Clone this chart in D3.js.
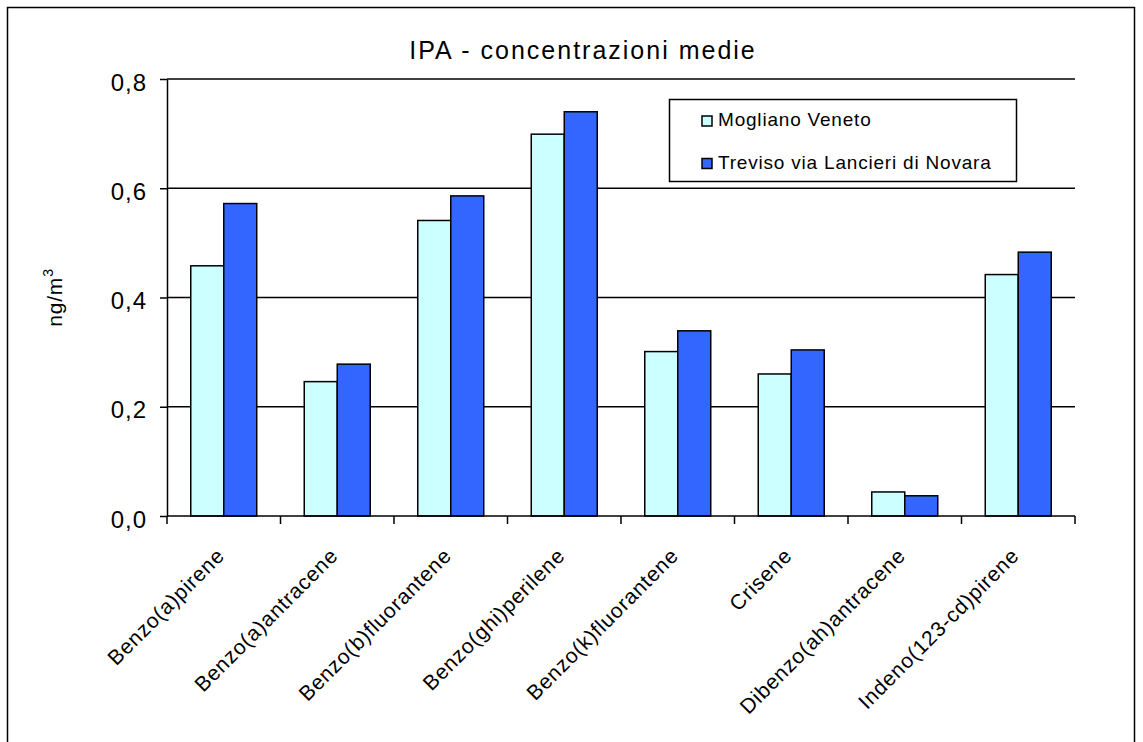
<!DOCTYPE html>
<html>
<head>
<meta charset="utf-8">
<script src="https://cdn.jsdelivr.net/npm/d3@7"></script>
<style>
    body { margin: 0; background: #fff; }
    text { font-family: "Liberation Sans", Arial, sans-serif; fill: #000; }
</style>
</head>
<body>
<div id="chart"></div>
<script>
const categories = ['Benzo(a)pirene', 'Benzo(a)antracene', 'Benzo(b)fluorantene', 'Benzo(ghi)perilene',
    'Benzo(k)fluorantene', 'Crisene', 'Dibenzo(ah)antracene', 'Indeno(123-cd)pirene'];
const seriesNames = ['Mogliano Veneto', 'Treviso via Lancieri di Novara'];
const mogliano = [0.458, 0.246, 0.541, 0.699, 0.301, 0.260, 0.044, 0.442];
const treviso = [0.572, 0.278, 0.586, 0.740, 0.339, 0.304, 0.037, 0.483];
const yTicks = [0, 0.2, 0.4, 0.6, 0.8];
const colors = ['#CCFFFF', '#3366FF'];

const width = 1143, height = 742;
const margin = { left: 167, top: 79, right: 68, bottom: 226 };

const svg = d3.select('#chart').append('svg')
    .attr('width', width)
    .attr('height', height);

// outer chart frame (bottom edge is below the picture)
svg.append('rect')
    .attr('x', 7.5).attr('y', 7.5)
    .attr('width', 1127).attr('height', 800)
    .attr('fill', 'none').attr('stroke', '#000').attr('stroke-width', 1.5);

const x0 = d3.scaleBand().domain(categories).range([margin.left, width - margin.right]).padding(0);
const x1 = d3.scaleBand().domain(seriesNames).range([0, x0.bandwidth()]).paddingInner(0).paddingOuter(0.72);
const y = d3.scaleLinear().domain([0, 0.8]).range([height - margin.bottom, margin.top]);

// horizontal grid
svg.append('g')
    .selectAll('line').data(yTicks.slice(1))
    .enter().append('line')
    .attr('x1', margin.left).attr('x2', width - margin.right)
    .attr('y1', d => y(d)).attr('y2', d => y(d))
    .attr('stroke', '#000').attr('stroke-width', 1.5);

// bars
const rows = categories.map((c, i) => ({ cat: c, vals: [mogliano[i], treviso[i]] }));
svg.append('g')
    .selectAll('g').data(rows)
    .enter().append('g')
    .attr('transform', d => 'translate(' + x0(d.cat) + ',0)')
    .selectAll('rect').data(d => d.vals.map((v, j) => ({ name: seriesNames[j], v: v, j: j })))
    .enter().append('rect')
    .attr('x', d => x1(d.name))
    .attr('width', x1.bandwidth())
    .attr('y', d => y(d.v))
    .attr('height', d => y(0) - y(d.v))
    .attr('fill', d => colors[d.j])
    .attr('stroke', '#000').attr('stroke-width', 1.5);

// y axis
const yAxis = svg.append('g')
    .attr('transform', 'translate(' + margin.left + ',0)')
    .call(d3.axisLeft(y).tickValues(yTicks).tickSize(7).tickSizeOuter(0)
        .tickFormat(d => d3.format('.1f')(d).replace('.', ',')));
yAxis.select('.domain').attr('stroke', '#000').attr('stroke-width', 1.5);
yAxis.selectAll('.tick line').attr('stroke', '#000').attr('stroke-width', 1.5);
yAxis.selectAll('.tick text')
    .attr('x', -20).attr('dy', 11)
    .style('font-size', '24px').style('letter-spacing', '1px')
    .attr('fill', '#000');

// x axis with ticks between categories
const xBase = y(0);
svg.append('line')
    .attr('x1', margin.left).attr('x2', width - margin.right)
    .attr('y1', xBase).attr('y2', xBase)
    .attr('stroke', '#000').attr('stroke-width', 1.5);
const bounds = categories.map(c => x0(c)).concat([width - margin.right]);
svg.append('g')
    .selectAll('line').data(bounds)
    .enter().append('line')
    .attr('x1', d => d).attr('x2', d => d)
    .attr('y1', xBase).attr('y2', xBase + 8)
    .attr('stroke', '#000').attr('stroke-width', 1.5);

svg.append('g')
    .selectAll('text').data(categories)
    .enter().append('text')
    .attr('text-anchor', 'end')
    .attr('transform', d => 'translate(' + (x0(d) + x0.bandwidth() / 2 + 2) + ',' + (xBase + 41) + ') rotate(-45)')
    .style('font-size', '21px').style('letter-spacing', '0.8px')
    .text(d => d);

// title
svg.append('text')
    .attr('x', 583).attr('y', 59)
    .attr('text-anchor', 'middle')
    .style('font-size', '25px').style('letter-spacing', '2px')
    .text('IPA - concentrazioni medie');

// y label
const yl = svg.append('text')
    .attr('transform', 'translate(62,' + ((margin.top + xBase) / 2) + ') rotate(-90)')
    .attr('text-anchor', 'middle')
    .style('font-size', '21px').style('letter-spacing', '0.8px');
yl.append('tspan').text('ng/m');
yl.append('tspan').attr('dy', -9).style('font-size', '14px').text('3');

// legend
const legend = svg.append('g');
legend.append('rect')
    .attr('x', 669.5).attr('y', 99.5).attr('width', 347).attr('height', 82)
    .attr('fill', '#fff').attr('stroke', '#000').attr('stroke-width', 1.5);
const items = legend.selectAll('g').data(seriesNames)
    .enter().append('g')
    .attr('transform', (d, i) => 'translate(702,' + (126 + i * 42.5) + ')');
items.append('rect')
    .attr('x', 0).attr('y', -10).attr('width', 10).attr('height', 10)
    .attr('fill', (d, i) => colors[i]).attr('stroke', '#000').attr('stroke-width', 1.5);
items.append('text')
    .attr('x', 16).attr('y', 0)
    .style('font-size', '19px').style('letter-spacing', '0.8px')
    .text(d => d);
</script>
</body>
</html>
